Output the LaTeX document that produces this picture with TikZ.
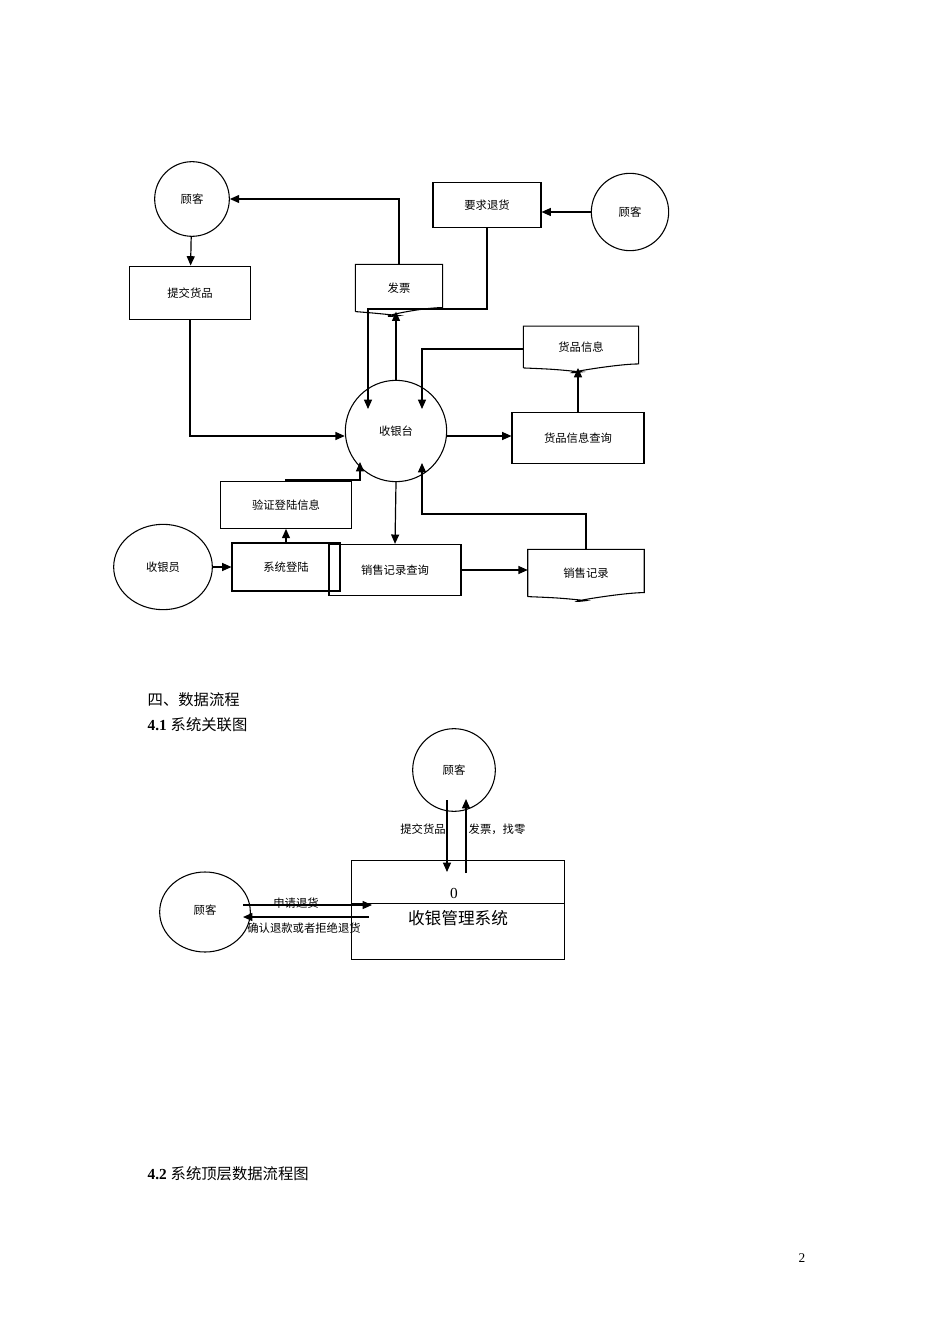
\documentclass[tikz,border=0pt]{standalone}
\usepackage{fontspec}
\setmainfont{Liberation Serif}
\newfontfamily\cjk{Noto Sans CJK SC}
\usetikzlibrary{arrows.meta,shapes.geometric}
\begin{document}
\begin{tikzpicture}[x=0.75pt,y=-0.75pt,
  every node/.style={font=\cjk\fontsize{8.5}{10}\selectfont},
  box/.style={draw,line width=0.8pt,inner sep=0pt},
  circ/.style={draw,line width=0.8pt,circle,inner sep=0pt},
  doc/.style={inner sep=0pt},
  line/.style={line width=0.9pt},
  arr/.style={line width=0.9pt,-{Triangle[length=7pt,width=6pt]}}]
\newcommand{\docdraw}[1]{\draw[line width=0.8pt] (#1.south west) -- (#1.north west) -- (#1.north east) -- ([yshift=3]#1.south east) .. controls ([xshift=-18,yshift=3]#1.south east) and ([xshift=-25,yshift=-6]#1.south) .. ([yshift=-3]#1.south) .. controls ([xshift=-20,yshift=-1]#1.south) .. (#1.south west);}
\useasboundingbox (0,0) rectangle (950,1344);
% top diagram
\node[circ,minimum size=56] (c1) at (192,199) {顾客};
\node[circ,minimum size=58] (c2) at (630,212) {顾客};
\node[circ,minimum size=76] (pos) at (396,431) {收银台};
\node[draw,line width=0.8pt,ellipse,minimum width=74,minimum height=64] (cash) at (163,567) {};
\node at (163,567) {收银员};
\node[box,line width=1.2pt,minimum width=91,minimum height=40] (submit) at (190,293) {提交货品};
\node[box,minimum width=81,minimum height=34] (ret) at (487,205) {要求退货};
\node[doc,minimum width=65,minimum height=35] (inv) at (399,288) {发票};
\node[doc,minimum width=86,minimum height=31] (ginfo) at (581,347) {货品信息};
\node[box,minimum width=99,minimum height=38] (gq) at (578,438) {货品信息查询};
\node[box,minimum width=98,minimum height=35] (verify) at (286,505) {验证登陆信息};
\node[box,minimum width=81,minimum height=36] (login) at (286,567) {系统登陆};
\node[box,line width=1.2pt,minimum width=99,minimum height=38] (sq) at (395,570) {销售记录查询};
\node[doc,minimum width=87,minimum height=35] (srec) at (586,573) {销售记录};
\docdraw{inv}\docdraw{ginfo}\docdraw{srec}
\coordinate (p1) at (190,436);
\draw[arr] (c1) -- (submit);
\draw[arr] (submit.south) |- (pos.west |- p1);
\draw[arr] (inv.north) |- (c1.east);
\draw[arr] (c2.west) -- (ret.east |- c2.west);
\coordinate (r1) at (487,309);\coordinate (r2) at (368,309);\coordinate (r3) at (368,409);
\draw[arr] (ret.south) -- (r1) -- (r2) -- (r3);
\draw[arr] (pos.north) -- (pos.north |- inv.south);
\coordinate (g1) at (422,349);\coordinate (g2) at (422,409);
\draw[arr] (ginfo.west |- g1) -- (g1) -- (g2);
\draw[arr] (pos.east |- p1) -- (gq.west |- p1);
\draw[arr] (gq.north) -- (gq.north |- ginfo.south);
\coordinate (v1) at (286,480);\coordinate (v2) at (360,480);\coordinate (v3) at (360,462);
\draw[arr] (verify.north) -- (v1) -- (v2) -- (v3);
\draw[arr] (login) -- (verify);
\draw[arr] (cash.east) -- (login.west);
\draw[arr] (pos.south) -- (sq.north);
\draw[arr] (sq.east) -- (srec.west |- sq.east);
\coordinate (s1) at (586,514);\coordinate (s2) at (422,514);\coordinate (s3) at (422,463);
\draw[arr] (srec.north) -- (s1) -- (s2) -- (s3);
% headings
\node[anchor=west,font=\cjk\fontsize{11.5}{13}\selectfont] (h1) at (143,700) {四、数据流程};
\node[anchor=west,font=\fontsize{11.5}{13}\selectfont] (h2) at (143,725) {\textbf{4.1} {\cjk 系统关联图}};
\node[anchor=west,font=\fontsize{11.5}{13}\selectfont] (h3) at (143,1174) {\textbf{4.2} {\cjk 系统顶层数据流程图}};
\node[font=\fontsize{10}{12}\selectfont] (pg) at (802,1258) {2};
% bottom diagram
\node[circ,minimum size=62] (c3) at (454,770) {顾客};
\node[draw,line width=0.8pt,ellipse,minimum width=68,minimum height=60] (c4) at (205,912) {};
\node at (205,910) {顾客};
\node[box,minimum width=160,minimum height=74] (sys) at (458,910) {};
\draw[line width=0.6pt] (sys.west |- 0,903) -- (sys.east |- 0,903);
\node[font=\fontsize{11.5}{13}\selectfont] (zero) at (454,893) {0};
\node[font=\cjk\fontsize{12.5}{14}\selectfont] (sname) at (458,918) {收银管理系统};
\coordinate (a1) at (447,800);\coordinate (a2) at (447,872);
\coordinate (b1) at (466,873);\coordinate (b2) at (466,799);
\draw[arr] (a1) -- (a2);
\draw[arr] (b1) -- (b2);
\node (l1) at (423,829) {提交货品};
\node (l2) at (497,829) {发票，找零};
\coordinate (d1) at (243,905);\coordinate (d2) at (372,905);
\coordinate (e1) at (369,917);\coordinate (e2) at (243,917);
\node (l3) at (296,903) {申请退货};
\draw[arr] (d1) -- (d2);
\draw[arr] (e1) -- (e2);
\node (l4) at (304,928) {确认退款或者拒绝退货};
\end{tikzpicture}
\end{document}
